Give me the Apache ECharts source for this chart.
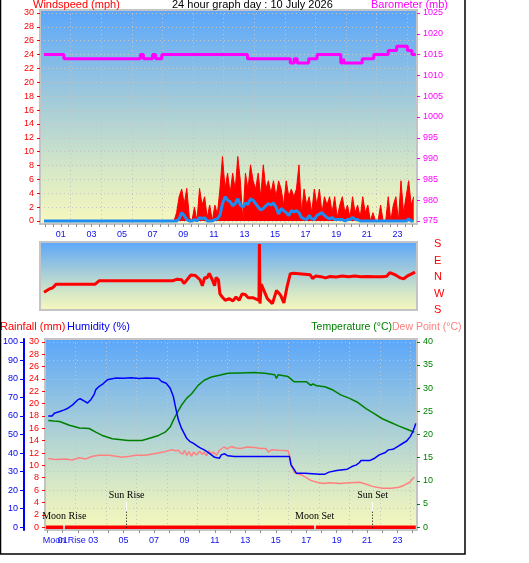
<!DOCTYPE html>
<html>
<head>
<meta charset="utf-8">
<script src="https://cdn.jsdelivr.net/npm/echarts@6/dist/echarts.min.js"></script>
<style>
html,body{margin:0;padding:0;background:#fff;}
#chart{width:529px;height:563px;}
</style>
</head>
<body>
<div id="chart"></div>
<script>
// tick labels
var hourLabels = [1, 3, 5, 7, 9, 11, 13, 15, 17, 19, 21, 23];
var windTicks = [0, 2, 4, 6, 8, 10, 12, 14, 16, 18, 20, 22, 24, 26, 28, 30];
var baroTicks = [975, 980, 985, 990, 995, 1000, 1005, 1010, 1015, 1020, 1025];
var dirTicks = [180, 90, 0, -90, -180];
var dirNames = {'180': 'S', '90': 'E', '0': 'N', '-90': 'W', '-180': 'S'};
var rainTicks = [0, 2, 4, 6, 8, 10, 12, 14, 16, 18, 20, 22, 24, 26, 28, 30];
var humTicks = [0, 10, 20, 30, 40, 50, 60, 70, 80, 90, 100];
var tempTicks = [0, 5, 10, 15, 20, 25, 30, 35, 40];

// sun / moon times (hour of day)
var moonRise = 1.1, sunRise = 5.2, moonSet = 17.55, sunSet = 21.36;

// wind (mph), one reading every 10 minutes from 08:24
var windStart = 8.4, windStep = 1 / 6;
var windGust = [0, 1.2, 3.5, 4.6, 2.5, 4.7, 0.5, 0, 2.0, 0,
    4.7, 2.3, 3.5, 0.5, 2.3, 0, 2.3, 1.0, 4.6, 9.3,
    4.7, 6.9, 4.0, 6.9, 4.5, 9.3, 5.8, 0, 6.9, 4.6,
    8.1, 5.8, 4.6, 6.9, 3.5, 8.1, 4.6, 5.8, 4.0, 5.8,
    3.5, 5.8, 4.6, 2.3, 5.8, 3.5, 4.6, 3.5, 4.6, 8.1,
    1.2, 4.6, 2.3, 3.5, 1.2, 4.6, 2.3, 4.6, 1.2, 3.5,
    2.3, 3.5, 1.2, 3.5, 0.5, 2.3, 3.5, 1.2, 2.3, 0.5,
    3.5, 1.2, 2.3, 0.5, 3.5, 1.2, 2.3, 0, 1.2, 0,
    0, 2.3, 0, 0, 3.5, 0, 2.3, 3.5, 0, 5.8,
    1.2, 3.5, 5.8, 2.3, 3.5];
var windAvg = [0, 0, 0.3, 1.2, 0.8, 0.2, 0, 0, 0.2, 0,
    0.5, 0.3, 0.5, 0, 0, 0, 0.2, 0.3, 0.8, 2.5,
    3.5, 3.0, 2.8, 2.2, 2.5, 3.2, 2.3, 2.0, 2.6, 2.4,
    3.2, 3.0, 2.5, 2.0, 1.6, 1.8, 2.2, 2.5, 2.3, 2.6,
    2.0, 1.0, 1.8, 1.5, 1.2, 0.8, 1.5, 1.3, 1.5, 1.2,
    0.5, 0.3, 0.2, 0.8, 0.3, 0.2, 0.8, 1.0, 1.2, 0.8,
    0.5, 0.3, 0.5, 0.2, 0.2, 0.2, 0.2, 0, 0.2, 0.2,
    0.5, 0.2, 0.2, 0, 0, 0, 0, 0, 0, 0,
    0, 0, 0, 0, 0, 0, 0, 0, 0, 0,
    0, 0, 0.3, 0, 0];

// barometer (mb): [hour, value], value held until next hour
var baro = [[-0.1, 1015], [1.2, 1014], [6.2, 1015], [6.4, 1014], [7.0, 1015], [7.2, 1014],
    [7.6, 1015], [13.2, 1014], [16.0, 1013], [16.25, 1014], [16.45, 1013], [17.2, 1014],
    [17.75, 1015], [19.3, 1013], [19.45, 1014], [19.55, 1013], [20.7, 1014], [21.45, 1015],
    [22.4, 1016], [22.95, 1017], [23.65, 1016], [23.95, 1015], [24.2, 1015]];

// wind direction (compass degrees)
var windDir = [[-0.1, 277], [0.25, 295], [0.45, 300], [0.7, 321], [3.25, 321], [3.5, 339],
    [8.1, 339], [8.2, 330], [8.3, 339], [8.6, 348], [8.9, 345], [9.05, 325], [9.25, 345],
    [9.5, 11], [9.8, 8], [10.1, 345], [10.25, 312], [10.4, 357], [10.55, 354], [10.7, 20],
    [10.9, 345], [11.05, 312], [11.15, 357], [11.3, 345], [11.4, 268], [11.55, 251],
    [11.75, 233], [12.0, 242], [12.25, 230], [12.45, 251], [12.65, 233], [12.85, 268],
    [13.05, 265], [13.25, 247], [13.55, 247], [13.95, 233], [13.98, 180], [14.02, 215],
    [14.1, 321], [14.28, 286], [14.5, 242], [14.83, 215], [15.1, 286], [15.37, 260],
    [15.58, 219], [15.8, 312], [16.0, 18], [16.2, 20], [17.3, 12], [17.45, 352], [17.65, 5],
    [18.0, 2], [18.3, 355], [18.6, 3], [19.0, 0], [19.4, 5], [19.8, 2], [20.2, 6], [20.6, 2],
    [21.0, 3], [21.5, 2], [22.0, 2], [22.3, 4], [22.5, 24], [22.9, 10], [23.2, 355],
    [23.4, 350], [23.7, 8], [24.15, 27]];

// humidity (%)
var humidity = [[0.05, 60], [0.3, 60], [0.45, 61.5], [0.8, 62.4], [1.1, 63.3], [1.3, 64],
    [1.65, 66], [2.0, 68.8], [2.15, 69.3], [2.45, 67.9], [2.63, 67], [2.85, 68.8], [3.06, 71.5],
    [3.17, 74.2], [3.4, 76], [3.6, 77], [3.93, 79.5], [4.05, 80.4], [4.5, 80.5], [5.0, 80.3],
    [5.5, 80.6], [6.0, 80.2], [6.5, 80.5], [7.0, 80.4], [7.3, 80.2], [7.5, 78.6], [7.8, 77.7],
    [8.06, 75], [8.27, 70.5], [8.38, 66], [8.5, 61.5], [8.6, 57.9], [8.8, 53.4], [8.97, 50.7],
    [9.14, 48], [9.36, 46.2], [9.57, 45.3], [9.9, 43.5], [10.1, 42.5], [10.3, 41.7],
    [10.55, 40.3], [10.77, 39], [10.98, 37.7], [11.3, 37.2], [11.42, 39], [11.64, 39.6],
    [11.85, 38.5], [12.29, 38.1], [13, 38.1], [14, 38.1], [15, 38.1], [15.9, 38.1], [16.0, 33.6],
    [16.15, 31.8], [16.35, 29.1], [16.9, 29.1], [17.0, 28.5], [17.9, 28.5], [17.95, 27.6],
    [18.2, 28.5], [18.5, 29.7], [19.0, 30.6], [19.7, 31.3], [20.0, 32.7], [20.3, 33.6],
    [20.5, 34.9], [20.6, 36], [21.2, 36], [21.5, 37.2], [21.8, 39], [22.2, 40.3], [22.4, 41.7],
    [22.7, 42], [23.0, 43.5], [23.3, 45], [23.6, 46.5], [23.85, 49], [24.0, 51.5],
    [24.1, 53.5], [24.2, 56]];

// temperature (°C)
var temperature = [[0.05, 23.0], [0.4, 22.9], [0.8, 22.8], [1.44, 22.0], [2.1, 21.4],
    [2.74, 21.3], [3.17, 20.5], [3.6, 19.8], [4.26, 19.1], [5.3, 18.7], [6.2, 18.7], [6.6, 19.1],
    [7.3, 19.8], [7.73, 20.5], [8.06, 21.6], [8.27, 23.1], [8.49, 24.5], [8.8, 26.3],
    [9.14, 27.8], [9.47, 28.8], [9.9, 30.6], [10.3, 31.7], [10.77, 32.4], [11.3, 32.8],
    [11.85, 33.2], [12.72, 33.3], [13.6, 33.4], [14.28, 33.2], [14.93, 32.9], [15.05, 32.1],
    [15.15, 32.9], [15.8, 32.5], [16.2, 31.4], [17.0, 31.4], [17.3, 30.6], [17.45, 30.9],
    [17.7, 30.5], [18.22, 30.3], [18.76, 29.6], [19.3, 28.5], [19.85, 27.8], [20.4, 26.9],
    [20.93, 25.6], [21.47, 24.5], [22.0, 23.4], [22.56, 22.6], [23.1, 21.8], [23.5, 21.3],
    [24.1, 20.5]];

// dew point (°C)
var dewPoint = [[0.05, 14.8], [0.5, 14.6], [1.2, 14.7], [1.6, 14.5], [2.1, 15.0], [2.5, 14.7],
    [2.96, 15.3], [3.4, 15.5], [4.04, 15.5], [4.5, 15.3], [4.9, 15.1], [5.4, 15.3], [5.8, 15.5],
    [6.43, 15.5], [7.1, 15.9], [7.6, 16.2], [8.16, 16.7], [8.4, 16.5], [8.6, 16.6], [8.75, 16.0],
    [8.9, 15.8], [9.0, 16.6], [9.15, 15.5], [9.3, 16.3], [9.47, 15.3], [9.6, 16.2], [9.8, 15.6],
    [10.0, 16.4], [10.15, 15.7], [10.3, 16.2], [10.45, 15.4], [10.6, 16.5], [10.75, 15.8],
    [10.9, 16.2], [11.1, 15.5], [11.3, 16.6], [11.6, 17.3], [11.8, 16.9], [12.07, 17.4],
    [12.4, 17.1], [12.7, 17.0], [13.1, 17.3], [13.6, 17.2], [14.0, 17.0], [14.35, 17.0],
    [14.5, 16.2], [14.72, 16.7], [15.15, 16.6], [15.8, 16.5], [15.9, 15.5], [16.05, 13.3],
    [16.2, 11.9], [16.4, 11.5], [16.75, 11.2], [17.0, 10.7], [17.3, 10.1], [17.7, 9.7],
    [18.1, 9.4], [18.56, 9.6], [19.2, 9.4], [19.85, 9.6], [20.5, 9.7], [20.9, 9.3],
    [21.35, 8.8], [22.0, 8.4], [22.6, 8.4], [23.1, 8.6], [23.4, 9.0], [23.8, 9.7], [24.1, 10.8]];

// rainfall (mm)
var rainfall = [[-0.1, 0], [24.2, 0]];

// ---- build ----
var gustData = [[-0.1, 0]], avgData = [[-0.1, 0]];
windGust.forEach(function (v, i) {
    var h = windStart + i * windStep;
    gustData.push([h, v]);
    avgData.push([h, windAvg[i]]);
});
var dirData = windDir.map(function (d) {
    return [d[0], d[1] > 180 ? d[1] - 360 : d[1]];
});
var halfHours = [], wholeHours = [];
for (var h = 0; h <= 24; h += 0.5) {
    halfHours.push(h);
    if (h % 1 === 0) wholeHours.push(h);
}
function pad(v) {
    return v < 10 ? '0' + v : '' + v;
}
function plain(v) { return '' + v; }
function bg() {
    return new echarts.graphic.LinearGradient(0, 0, 0, 1, [
        {offset: 0, color: '#5aa6fb'},
        {offset: 0.45, color: '#a6cdd8'},
        {offset: 0.75, color: '#d6e8c6'},
        {offset: 1, color: '#f8f8bc'}
    ]);
}
var font = 'Liberation Sans';
var dotGrid = {show: true, lineStyle: {color: '#c4c4c4', type: [1, 3], width: 1}};
var noLine = {show: false, onZero: false};
var X0 = {min: -0.36, max: 24.28};
var X2 = {min: -0.163, max: 24.28};

// hidden axis shifted by one hour: its multiples of 2 fall on odd hours (vertical grid)
function gridAxis(gi, X) {
    return {gridIndex: gi, type: 'value', position: 'top', min: X.min + 1, max: X.max + 1, interval: 2,
        axisLine: noLine, axisTick: {show: false}, axisLabel: {show: false}, splitLine: dotGrid};
}

function lineLabel(text, dist) {
    return {show: true, formatter: text, position: 'start', distance: dist,
        color: '#000', fontSize: 10, fontFamily: 'Liberation Serif'};
}
function sunMark(t, text) {
    return [
        [{coord: [t, 4.1], lineStyle: {color: '#fff', width: 1, type: 'solid'}, label: lineLabel(text, 1)},
         {coord: [t, 2.5]}],
        [{coord: [t, 2.5], lineStyle: {color: '#000', width: 1, type: [1, 2]}, label: {show: false}},
         {coord: [t, -0.3]}]
    ];
}
function moonMark(t, text) {
    return [[{coord: [t, 0.36], lineStyle: {color: '#fff', width: 1.5, type: 'solid'}, label: lineLabel(text, 4)},
        {coord: [t, -0.35]}]];
}

var myChart = echarts.init(document.getElementById('chart'));
myChart.setOption({
    animation: false,
    backgroundColor: '#fff',
    textStyle: {fontFamily: font},
    grid: [
        {left: 40, top: 10, width: 377, height: 214, show: true, backgroundColor: bg(), borderColor: '#c4c4c4', borderWidth: 2},
        {left: 40, top: 242, width: 377, height: 68, show: true, backgroundColor: bg(), borderColor: '#c4c4c4', borderWidth: 2},
        {left: 43, top: 339, width: 374, height: 191, show: true, backgroundColor: bg(), borderColor: '#c4c4c4', borderWidth: 2}
    ],
    xAxis: [
        {gridIndex: 0, type: 'value', position: 'bottom', min: X0.min, max: X0.max,
            axisLine: noLine,
            axisTick: {customValues: halfHours, length: 3, lineStyle: {color: '#909090'}},
            axisLabel: {show: false}, splitLine: {show: false}},
        gridAxis(0, X0),
        {gridIndex: 1, type: 'value', position: 'top', min: X0.min, max: X0.max,
            axisLine: noLine, axisTick: {show: false},
            axisLabel: {customValues: hourLabels, formatter: pad, color: '#1010ee', fontSize: 9, margin: 3},
            splitLine: {show: false}},
        {gridIndex: 2, type: 'value', position: 'bottom', min: X2.min, max: X2.max,
            axisLine: noLine,
            axisTick: {customValues: wholeHours, length: 3, lineStyle: {color: '#909090'}},
            axisLabel: {customValues: hourLabels, formatter: pad, color: '#1010ee', fontSize: 9, margin: 6},
            splitLine: {show: false}},
        gridAxis(2, X2),
        // moon rise marker written under the time axis
        {gridIndex: 2, type: 'value', position: 'bottom', min: X2.min, max: X2.max,
            axisLine: noLine, axisTick: {show: false},
            axisLabel: {customValues: [moonRise], formatter: function () { return 'Moon Rise'; },
                color: '#1010ee', fontSize: 9, margin: 6},
            splitLine: {show: false}, z: 0}
    ],
    yAxis: [
        {gridIndex: 0, type: 'value', position: 'left', min: -0.433, max: 30.433,
            axisLine: noLine,
            axisTick: {customValues: windTicks, length: 3, lineStyle: {color: '#ff0000'}},
            axisLabel: {customValues: windTicks, color: '#ff0000', fontSize: 9, margin: 6},
            splitLine: dotGrid},
        {gridIndex: 0, type: 'value', position: 'right', min: 974.28, max: 1025.72,
            axisLine: noLine,
            axisTick: {customValues: baroTicks, length: 3, lineStyle: {color: '#ff00ff'}},
            axisLabel: {customValues: baroTicks, formatter: plain, color: '#ff00ff', fontSize: 9, margin: 6},
            splitLine: {show: false}},
        {gridIndex: 1, type: 'value', position: 'right', min: -180, max: 191,
            axisLine: noLine, axisTick: {show: false},
            axisLabel: {customValues: dirTicks, formatter: function (v) { return dirNames[v]; },
                color: '#ff0000', fontSize: 11, margin: 17},
            splitLine: {show: false}},
        {gridIndex: 2, type: 'value', position: 'left', min: -0.46, max: 30.46,
            axisLine: noLine,
            axisTick: {customValues: rainTicks, length: 3, lineStyle: {color: '#ff0000'}},
            axisLabel: {customValues: rainTicks, color: '#ff0000', fontSize: 9, margin: 6},
            splitLine: {show: false}},
        {gridIndex: 2, type: 'value', position: 'left', offset: 21, min: -1.54, max: 101.54,
            axisLine: {show: true, onZero: false, lineStyle: {color: '#0000ff', width: 2}},
            axisTick: {customValues: humTicks, length: 4, lineStyle: {color: '#0000ff'}},
            axisLabel: {customValues: humTicks, color: '#0000ee', fontSize: 9, margin: 6},
            splitLine: dotGrid},
        {gridIndex: 2, type: 'value', position: 'right', min: -0.615, max: 40.615,
            axisLine: noLine,
            axisTick: {customValues: tempTicks, length: 3, lineStyle: {color: '#008000'}},
            axisLabel: {customValues: tempTicks, color: '#008000', fontSize: 9, margin: 6},
            splitLine: {show: false}}
    ],
    graphic: [
        {type: 'rect', silent: true, z: 100, shape: {x: 0.5, y: -2, width: 464.5, height: 556},
            style: {fill: 'none', stroke: '#000', lineWidth: 1.5}},
        {type: 'text', silent: true, style: {text: 'Windspeed (mph)', x: 33, y: 5, fill: '#ff0000', fontSize: 11, fontFamily: font, verticalAlign: 'middle'}},
        {type: 'text', silent: true, style: {text: '24 hour graph day : 10 July 2026', x: 172, y: 5, fill: '#000', fontSize: 11, fontFamily: font, verticalAlign: 'middle'}},
        {type: 'text', silent: true, style: {text: 'Barometer (mb)', x: 371, y: 5, fill: '#ff00ff', fontSize: 11, fontFamily: font, verticalAlign: 'middle'}},
        {type: 'text', silent: true, style: {text: 'Rainfall (mm)', x: 0, y: 327, fill: '#ff0000', fontSize: 11, fontFamily: font, verticalAlign: 'middle'}},
        {type: 'text', silent: true, style: {text: 'Humidity (%)', x: 67, y: 327, fill: '#0000ee', fontSize: 11, fontFamily: font, verticalAlign: 'middle'}},
        {type: 'text', silent: true, style: {text: 'Temperature (°C)', x: 392, y: 327, align: 'right', fill: '#008000', fontSize: 10.5, fontFamily: font, verticalAlign: 'middle'}},
        {type: 'text', silent: true, style: {text: 'Dew Point (°C)', x: 392, y: 327, fill: '#ff8080', fontSize: 10.5, fontFamily: font, verticalAlign: 'middle'}}
    ],
    series: [
        {name: 'Gust', type: 'line', xAxisIndex: 0, yAxisIndex: 0, data: gustData, showSymbol: false,
            lineStyle: {color: '#ff0000', width: 1}, itemStyle: {color: '#ff0000'},
            areaStyle: {color: '#ff0000', opacity: 1}},
        {name: 'Wind', type: 'line', xAxisIndex: 0, yAxisIndex: 0, data: avgData, showSymbol: false,
            lineStyle: {color: '#1e8cf0', width: 3}, itemStyle: {color: '#1e8cf0'}},
        {name: 'Barometer', type: 'line', xAxisIndex: 0, yAxisIndex: 1, data: baro, step: 'end', showSymbol: false,
            lineStyle: {color: '#ff00ff', width: 3}, itemStyle: {color: '#ff00ff'}},
        {name: 'Direction', type: 'line', xAxisIndex: 2, yAxisIndex: 2, data: dirData, showSymbol: false,
            lineStyle: {color: '#ff0000', width: 3}, itemStyle: {color: '#ff0000'}},
        {name: 'Temperature', type: 'line', xAxisIndex: 3, yAxisIndex: 5, data: temperature, showSymbol: false,
            lineStyle: {color: '#008000', width: 1.5}, itemStyle: {color: '#008000'}},
        {name: 'Dew Point', type: 'line', xAxisIndex: 3, yAxisIndex: 5, data: dewPoint, showSymbol: false,
            lineStyle: {color: '#ff8080', width: 1.5}, itemStyle: {color: '#ff8080'}},
        {name: 'Humidity', type: 'line', xAxisIndex: 3, yAxisIndex: 4, data: humidity, showSymbol: false,
            lineStyle: {color: '#0000ff', width: 1.5}, itemStyle: {color: '#0000ff'}},
        {name: 'Rainfall', type: 'line', xAxisIndex: 3, yAxisIndex: 3, data: rainfall, showSymbol: false,
            lineStyle: {color: '#ff0000', width: 3.5}, itemStyle: {color: '#ff0000'},
            markLine: {symbol: 'none', silent: true, animation: false,
                data: sunMark(sunRise, 'Sun Rise').concat(sunMark(sunSet, 'Sun Set'),
                    moonMark(moonRise, 'Moon Rise'), moonMark(moonSet, 'Moon Set'))}}
    ]
});
</script>
</body>
</html>
